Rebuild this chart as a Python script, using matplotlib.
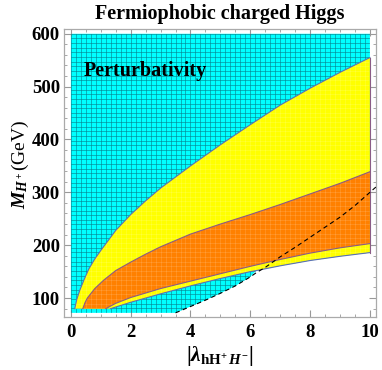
import numpy as np
import matplotlib.pyplot as plt
from matplotlib.patches import Polygon
from matplotlib.ticker import MultipleLocator

plt.rcParams['font.family'] = ['Liberation Serif', 'DejaVu Serif']
plt.rcParams['mathtext.fontset'] = 'custom'
plt.rcParams['mathtext.rm'] = 'Liberation Serif:bold'
plt.rcParams['mathtext.it'] = 'Liberation Serif:italic:bold'
plt.rcParams['mathtext.bf'] = 'Liberation Serif:bold'

# outer (upper) edge of the yellow band
top_x = [0.13, 0.2, 0.3, 0.45, 0.6, 0.8, 1.0, 1.5, 2.0, 2.5, 3.0, 4.0, 5.0, 6.0, 7.0, 8.0, 9.0, 10.0]
top_y = [80, 98, 115, 136, 155, 174, 190, 228, 258, 284, 308, 350, 390, 428, 465, 497, 527, 555]

# orange band, upper and lower edges
otop_x = [0.4, 0.47, 0.55, 0.8, 1.1, 1.5, 2.0, 2.5, 3.0, 4.0, 5.0, 6.0, 7.0, 8.0, 9.0, 10.0]
otop_y = [80, 91, 100, 118, 134, 152, 168, 183, 197, 221, 240, 258, 277, 297, 317, 339]
obot_x = [1.17, 1.5, 2.0, 3.0, 4.0, 5.0, 6.0, 7.0, 8.0, 9.0, 10.0]
obot_y = [80, 90, 101, 118, 132, 146, 160, 173, 185, 195, 203]

# lower edge of the yellow band
ybot_x = [1.33, 2.0, 3.0, 4.0, 5.0, 6.0, 6.2, 7.0, 8.0, 9.0, 10.0]
ybot_y = [80, 92, 108, 123, 137, 150, 152, 161, 171, 179, 186]

# dashed curve (also lower edge of cyan region)
dash_x = [3.5, 4.0, 4.5, 5.0, 5.5, 6.0, 6.2, 6.5, 7.0, 7.5, 8.0, 8.5, 9.0, 9.5, 10.0, 10.2]
dash_y = [72, 84, 96, 109, 123, 140, 148, 158, 178, 196, 215, 234, 253, 275, 300, 310]

cyan_top, cyan_bot = 600, 72

fig = plt.figure(figsize=(3.82, 3.70), dpi=100)
ax = fig.add_axes([0.1675, 0.143, 0.8165, 0.7786])
ax.set_xlim(-0.23, 10.2)
ax.set_ylim(64, 609)

edge_blue = '#5b6fb5'
edge_purp = '#8a5c86'

# cyan (perturbativity) region
yb_x, yb_y, dx, dy = map(np.array, (ybot_x, ybot_y, dash_x, dash_y))
cyan_pts = [(0, cyan_top), (10, cyan_top), (10, yb_y[-1])]
sel = yb_x >= 6.2
cyan_pts += list(zip(yb_x[sel][::-1], yb_y[sel][::-1]))
sel = dx < 6.2
cyan_pts += list(zip(dx[sel][::-1], dy[sel][::-1]))
cyan_pts += [(0, cyan_bot)]
cyan = Polygon(cyan_pts, closed=True, facecolor='#00ffff', edgecolor='none', zorder=1)
ax.add_patch(cyan)

mx = np.linspace(0, 10, 61)
my = np.linspace(cyan_bot, cyan_top, 61)
mesh = []
for v in mx:
    mesh.append(ax.plot([v, v], [cyan_bot, cyan_top], color='#07828e', lw=0.5, alpha=0.85, zorder=2)[0])
for v in my:
    mesh.append(ax.plot([0, 10], [v, v], color='#07828e', lw=0.5, alpha=0.85, zorder=2)[0])
for ln in mesh:
    ln.set_clip_path(cyan)

# yellow band
ypts = list(zip(top_x, top_y)) + [(10, ybot_y[-1])] + list(zip(ybot_x[::-1], ybot_y[::-1]))
yellow = Polygon(ypts, closed=True, facecolor='#ffff00', edgecolor='none', zorder=3)
ax.add_patch(yellow)

# orange band
opts = list(zip(otop_x, otop_y)) + [(10, obot_y[-1])] + list(zip(obot_x[::-1], obot_y[::-1]))
orange = Polygon(opts, closed=True, facecolor='#ff8000', edgecolor='none', zorder=4)
ax.add_patch(orange)

# faint mesh over the coloured bands
light = []
for v in mx:
    light.append(ax.plot([v, v], [cyan_bot, cyan_top], color='white', lw=0.4, alpha=0.22, zorder=5)[0])
for v in my:
    light.append(ax.plot([0, 10], [v, v], color='white', lw=0.4, alpha=0.22, zorder=5)[0])
for ln in light:
    ln.set_clip_path(yellow)

# boundaries
ax.plot(top_x, top_y, color=edge_blue, lw=0.8, zorder=6)
ax.plot(ybot_x, ybot_y, color=edge_blue, lw=0.8, zorder=6)
ax.plot(otop_x, otop_y, color=edge_purp, lw=0.8, zorder=6)
ax.plot(obot_x, obot_y, color=edge_purp, lw=0.8, zorder=6)
ax.plot([10, 10], [ybot_y[-1], top_y[-1]], color=edge_purp, lw=0.8, zorder=6)
ax.plot(dash_x, dash_y, color='black', lw=0.8, ls=(0, (4, 3)), zorder=7)

ax.text(0.43, 530, 'Perturbativity', fontsize=14.5, fontweight='bold', va='center', ha='left', zorder=8)

ax.set_title('Fermiophobic charged Higgs', fontsize=14.5, fontweight='bold', pad=7)
ax.set_xlabel(r'$|\lambda_{\mathrm{hH}^{+}\,H^{-}}|$', fontsize=15.5)
ax.set_ylabel(r'$M_{H^+}$(GeV)', fontsize=14)
ax.xaxis.set_label_coords(0.50, -0.092)
ax.yaxis.set_label_coords(-0.105, 0.53)

ax.set_xticks([0, 2, 4, 6, 8, 10])
ax.set_yticks([100, 200, 300, 400, 500, 600])
ax.xaxis.set_minor_locator(MultipleLocator(0.5))
ax.yaxis.set_minor_locator(MultipleLocator(20))
ax.tick_params(which='both', direction='in', top=True, right=True, color='#999999')
ax.tick_params(which='major', length=5, width=0.8, labelsize=13.5, pad=5)
ax.tick_params(which='minor', length=2.5, width=0.6)
for lab in ax.get_xticklabels() + ax.get_yticklabels():
    lab.set_fontweight('bold')
ax.tick_params(axis='y', pad=3)
for s in ax.spines.values():
    s.set_color('#aaaaaa')
    s.set_linewidth(0.9)

fig.savefig('out.png', dpi=100)
